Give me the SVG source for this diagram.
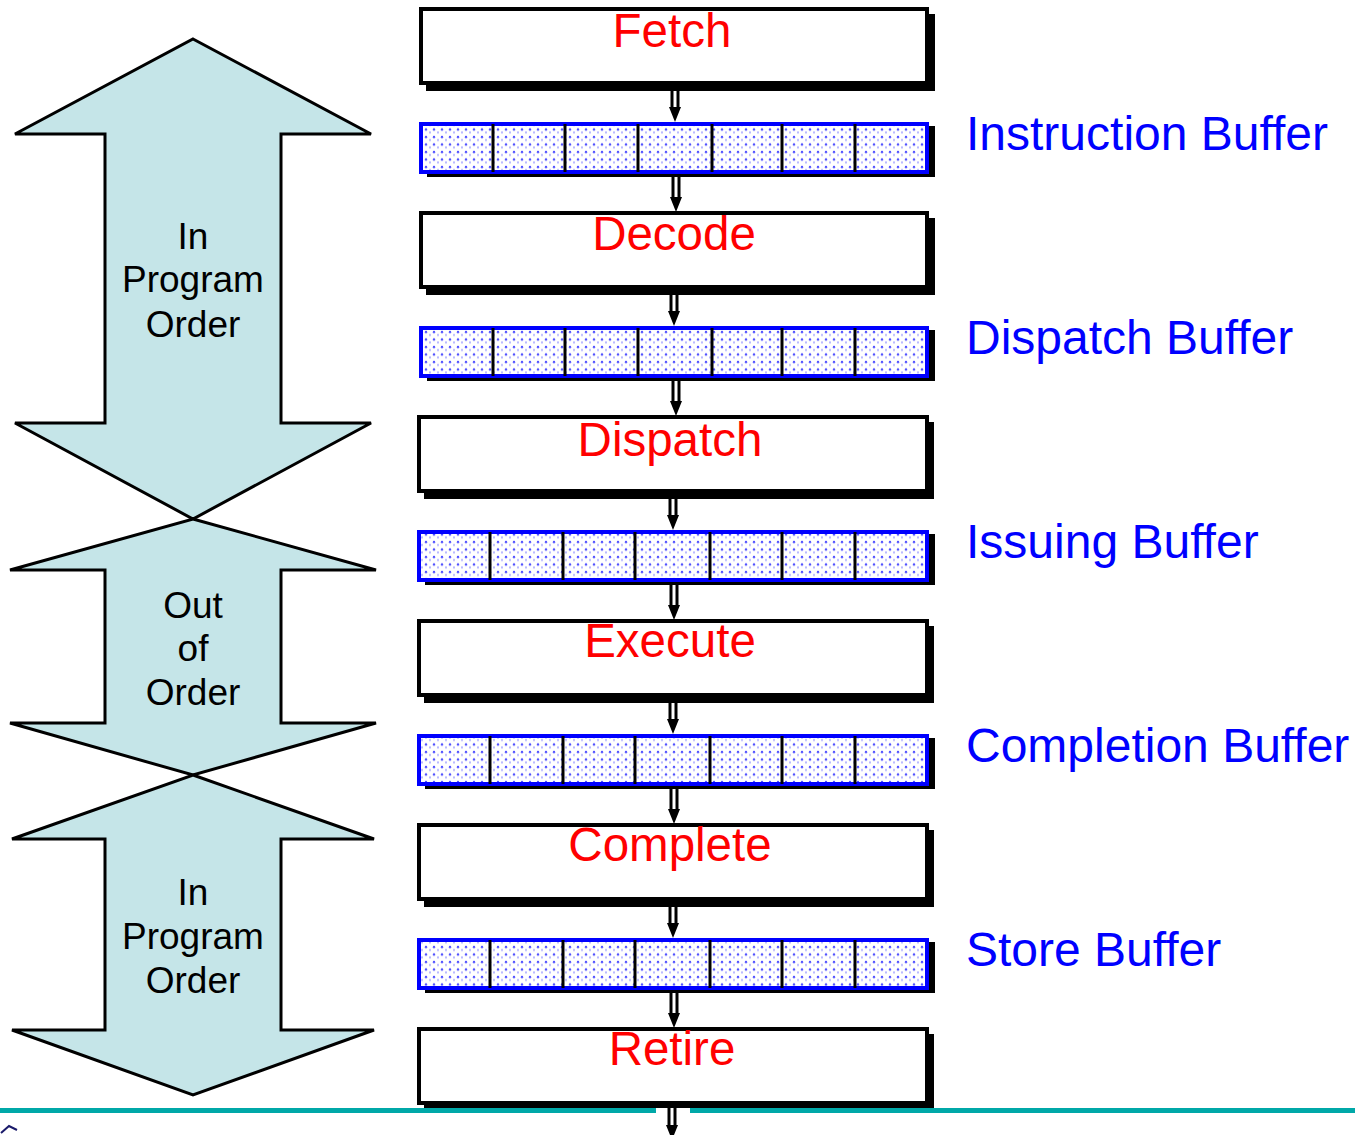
<svg xmlns="http://www.w3.org/2000/svg" width="1355" height="1135" viewBox="0 0 1355 1135">
<style>
.big{fill:#c5e5e8;stroke:#000;stroke-width:3;stroke-linejoin:miter}
.lbl{font-family:"Liberation Sans",Arial,sans-serif;font-size:37px;fill:#000;text-anchor:middle}
.stage{font-family:"Liberation Sans",Arial,sans-serif;font-size:47.5px;fill:#ff0000;text-anchor:middle}
.buf{font-family:"Liberation Sans",Arial,sans-serif;font-size:48px;fill:#0000ff}
.sh{fill:#000}
.box{fill:#fff;stroke:#000;stroke-width:4}
.bufbox{fill:url(#dots);stroke:#0000ff;stroke-width:4}
.div{stroke:#000;stroke-width:3}
</style>
<defs>
<pattern id="dots" x="0" y="0" width="8" height="7.5" patternUnits="userSpaceOnUse">
<rect width="8" height="7.5" fill="#fff"/>
<circle cx="2" cy="2" r="1.2" fill="#5050ff"/>
<rect x="5.5" y="4" width="1" height="2" fill="#7070ff"/>
</pattern>
<g id="sarrow">
<line x1="-3" y1="0" x2="-3" y2="20" stroke="#000" stroke-width="3"/>
<line x1="3" y1="0" x2="3" y2="20" stroke="#000" stroke-width="3"/>
<polygon points="-6,20 6,20 0,35" fill="#000"/>
</g>
</defs>

<g id="order-arrow-1">
<polygon class="big" points="193,39 371,134 281,134 281,423 371,423 193,519 15,423 105,423 105,134 15,134"/>
<text class="lbl" x="193" y="249">In</text>
<text class="lbl" x="193" y="292">Program</text>
<text class="lbl" x="193" y="337">Order</text>
</g>
<g id="order-arrow-2">
<polygon class="big" points="193,519 376,570 281,570 281,723 376,723 193,775 10,723 105,723 105,570 10,570"/>
<text class="lbl" x="193" y="618">Out</text>
<text class="lbl" x="193" y="661">of</text>
<text class="lbl" x="193" y="705">Order</text>
</g>
<g id="order-arrow-3">
<polygon class="big" points="193,775 374,839 281,839 281,1030 374,1030 193,1095 12,1030 105,1030 105,839 12,839"/>
<text class="lbl" x="193" y="905">In</text>
<text class="lbl" x="193" y="949">Program</text>
<text class="lbl" x="193" y="993">Order</text>
</g>

<rect x="0" y="1108" width="656" height="5" fill="#00a8a8"/>
<rect x="690" y="1108" width="665" height="5" fill="#00a8a8"/>
<path d="M1,1133 L9,1126 L17,1130" fill="none" stroke="#1a1a6a" stroke-width="2"/>

<g id="connectors">
<use href="#sarrow" x="675" y="87"/>
<use href="#sarrow" x="676" y="177"/>
<use href="#sarrow" x="674" y="291"/>
<use href="#sarrow" x="676" y="381"/>
<use href="#sarrow" x="673" y="495"/>
<use href="#sarrow" x="674" y="585"/>
<use href="#sarrow" x="673" y="699"/>
<use href="#sarrow" x="674" y="789"/>
<use href="#sarrow" x="673" y="903"/>
<use href="#sarrow" x="674" y="993"/>
<use href="#sarrow" x="672" y="1105"/>
</g>

<g id="fetch">
<rect class="sh" x="426" y="14" width="509" height="77"/>
<rect class="box" x="421" y="9" width="506" height="74"/>
<text class="stage" x="672" y="47">Fetch</text>
</g>
<g id="instruction-buffer">
<rect class="sh" x="427" y="126" width="508" height="51"/>
<rect class="bufbox" x="421" y="124" width="506" height="48"/>
<g class="div"><line x1="493" y1="124" x2="493" y2="172"/><line x1="565" y1="124" x2="565" y2="172"/><line x1="638" y1="124" x2="638" y2="172"/><line x1="712" y1="124" x2="712" y2="172"/><line x1="782" y1="124" x2="782" y2="172"/><line x1="855" y1="124" x2="855" y2="172"/></g>
<text class="buf" x="966" y="150">Instruction Buffer</text>
</g>
<g id="decode">
<rect class="sh" x="426" y="218" width="509" height="77"/>
<rect class="box" x="421" y="213" width="506" height="74"/>
<text class="stage" x="674" y="250">Decode</text>
</g>
<g id="dispatch-buffer">
<rect class="sh" x="427" y="330" width="508" height="51"/>
<rect class="bufbox" x="421" y="328" width="506" height="48"/>
<g class="div"><line x1="493" y1="328" x2="493" y2="376"/><line x1="565" y1="328" x2="565" y2="376"/><line x1="638" y1="328" x2="638" y2="376"/><line x1="712" y1="328" x2="712" y2="376"/><line x1="782" y1="328" x2="782" y2="376"/><line x1="855" y1="328" x2="855" y2="376"/></g>
<text class="buf" x="966" y="354">Dispatch Buffer</text>
</g>
<g id="dispatch">
<rect class="sh" x="424" y="422" width="510" height="77"/>
<rect class="box" x="419" y="417" width="508" height="74"/>
<text class="stage" x="670" y="456">Dispatch</text>
</g>
<g id="issuing-buffer">
<rect class="sh" x="425" y="534" width="510" height="51"/>
<rect class="bufbox" x="419" y="532" width="508" height="48"/>
<g class="div"><line x1="490" y1="532" x2="490" y2="580"/><line x1="563" y1="532" x2="563" y2="580"/><line x1="635" y1="532" x2="635" y2="580"/><line x1="710" y1="532" x2="710" y2="580"/><line x1="782" y1="532" x2="782" y2="580"/><line x1="855" y1="532" x2="855" y2="580"/></g>
<text class="buf" x="966" y="558">Issuing Buffer</text>
</g>
<g id="execute">
<rect class="sh" x="424" y="626" width="510" height="77"/>
<rect class="box" x="419" y="621" width="508" height="74"/>
<text class="stage" x="670" y="657">Execute</text>
</g>
<g id="completion-buffer">
<rect class="sh" x="425" y="738" width="510" height="51"/>
<rect class="bufbox" x="419" y="736" width="508" height="48"/>
<g class="div"><line x1="490" y1="736" x2="490" y2="784"/><line x1="563" y1="736" x2="563" y2="784"/><line x1="635" y1="736" x2="635" y2="784"/><line x1="710" y1="736" x2="710" y2="784"/><line x1="782" y1="736" x2="782" y2="784"/><line x1="855" y1="736" x2="855" y2="784"/></g>
<text class="buf" x="966" y="762">Completion Buffer</text>
</g>
<g id="complete">
<rect class="sh" x="424" y="830" width="510" height="77"/>
<rect class="box" x="419" y="825" width="508" height="74"/>
<text class="stage" x="670" y="861">Complete</text>
</g>
<g id="store-buffer">
<rect class="sh" x="425" y="942" width="510" height="51"/>
<rect class="bufbox" x="419" y="940" width="508" height="48"/>
<g class="div"><line x1="490" y1="940" x2="490" y2="988"/><line x1="563" y1="940" x2="563" y2="988"/><line x1="635" y1="940" x2="635" y2="988"/><line x1="710" y1="940" x2="710" y2="988"/><line x1="782" y1="940" x2="782" y2="988"/><line x1="855" y1="940" x2="855" y2="988"/></g>
<text class="buf" x="966" y="966">Store Buffer</text>
</g>
<g id="retire">
<rect class="sh" x="424" y="1034" width="510" height="74"/>
<rect class="box" x="419" y="1029" width="508" height="74"/>
<text class="stage" x="672" y="1065">Retire</text>
</g>
</svg>
